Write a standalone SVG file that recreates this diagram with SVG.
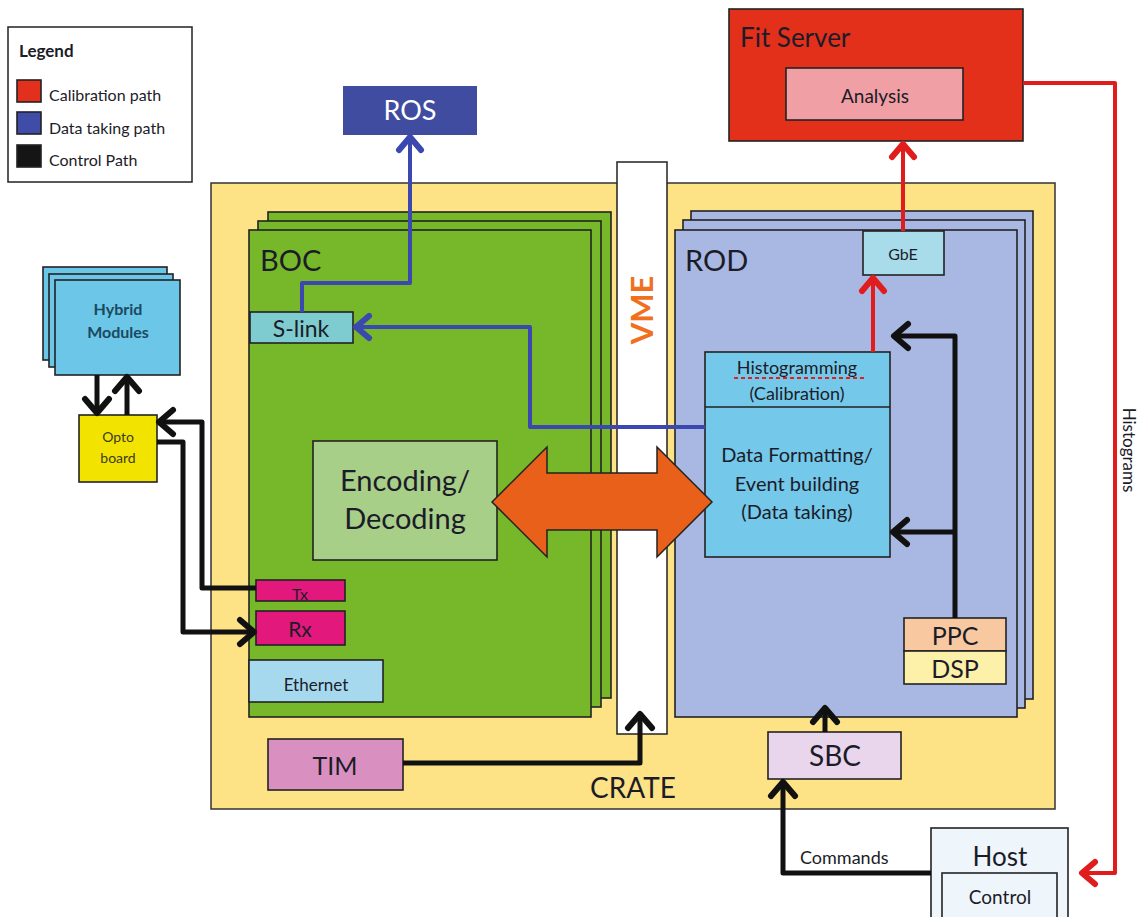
<svg xmlns="http://www.w3.org/2000/svg" width="1143" height="917" viewBox="0 0 1143 917">
<defs>
<style>
text{font-family:Lato,"Open Sans","Liberation Sans",sans-serif;fill:#1c1c28}
.b{stroke:#222;stroke-width:1.6}
.c{text-anchor:middle}
.blk{fill:none;stroke:#111;stroke-width:5;stroke-linejoin:round}
.blu{fill:none;stroke:#3a48b0;stroke-width:4;stroke-linejoin:round}
.red{fill:none;stroke:#e01c1c;stroke-width:4;stroke-linejoin:round}
</style>
<marker id="mk" markerUnits="userSpaceOnUse" markerWidth="40" markerHeight="40" refX="20" refY="20" orient="auto" overflow="visible"><path d="M6,8 L20,20 L6,32" fill="none" stroke="#111" stroke-width="6" stroke-linecap="round" stroke-linejoin="round"/></marker>
<marker id="mb" markerUnits="userSpaceOnUse" markerWidth="40" markerHeight="40" refX="20" refY="20" orient="auto" overflow="visible"><path d="M7,9 L20,20 L7,31" fill="none" stroke="#3a48b0" stroke-width="6" stroke-linecap="round" stroke-linejoin="round"/></marker>
<marker id="mr" markerUnits="userSpaceOnUse" markerWidth="40" markerHeight="40" refX="20" refY="20" orient="auto" overflow="visible"><path d="M7,9 L20,20 L7,31" fill="none" stroke="#e01c1c" stroke-width="6" stroke-linecap="round" stroke-linejoin="round"/></marker>
</defs>
<rect width="1143" height="917" fill="#fff"/>

<g id="legend">
<rect x="8" y="27" width="184" height="155" fill="#fff" stroke="#222" stroke-width="1.5"/>
<text x="19" y="57" font-size="17" font-weight="bold">Legend</text>
<rect x="17" y="80" width="24" height="22" fill="#e3301c" class="b"/>
<rect x="17" y="112" width="24" height="22" fill="#3f4ca8" class="b"/>
<rect x="17" y="145" width="24" height="22" fill="#151515" class="b"/>
<text x="49" y="101" font-size="16" fill="#333">Calibration path</text>
<text x="49" y="134" font-size="16">Data taking path</text>
<text x="49" y="166" font-size="16">Control Path</text>
</g>

<g id="crate">
<rect x="211" y="183" width="844" height="626" fill="#fde386" stroke="#333" stroke-width="1.5"/>
<text x="633" y="798" class="c" font-size="28">CRATE</text>
</g>

<g id="vme">
<rect x="617" y="162" width="50" height="572" fill="#fff" stroke="#222" stroke-width="1.5"/>
<text transform="translate(653,310) rotate(-90)" class="c" font-size="31" font-weight="bold" style="fill:#f07020">VME</text>
</g>

<g id="boc">
<rect x="268" y="212" width="343" height="486" fill="#76b82a" class="b"/>
<rect x="258" y="221" width="343" height="486" fill="#76b82a" class="b"/>
<rect x="249" y="230" width="342" height="487" fill="#76b82a" class="b"/>
<text x="260" y="271" font-size="29">BOC</text>
</g>

<g id="slink">
<rect x="250" y="312" width="103" height="31" fill="#7ecbd0" class="b"/>
<text x="301" y="337" class="c" font-size="23">S-link</text>
</g>

<g id="encdec">
<rect x="313" y="441" width="184" height="119" fill="#a8cf88" class="b"/>
<text x="405" y="491" class="c" font-size="29">Encoding/</text>
<text x="405" y="529" class="c" font-size="29">Decoding</text>
</g>

<g id="tx">
<rect x="256" y="580" width="89" height="21" fill="#e2187c" class="b"/>
<text x="300" y="600" class="c" font-size="16">Tx</text>
</g>
<g id="rx">
<rect x="256" y="611" width="89" height="34" fill="#e2187c" class="b"/>
<text x="300" y="637" class="c" font-size="21">Rx</text>
</g>
<g id="ethernet">
<rect x="249" y="660" width="134" height="42" fill="#a6d8ee" class="b"/>
<text x="316" y="691" class="c" font-size="17">Ethernet</text>
</g>

<g id="rod">
<rect x="691" y="211" width="342" height="488" fill="#a9b8e2" class="b"/>
<rect x="683" y="220" width="342" height="488" fill="#a9b8e2" class="b"/>
<rect x="675" y="230" width="342" height="487" fill="#a9b8e2" class="b"/>
<text x="685" y="271" font-size="29">ROD</text>
</g>

<g id="gbe">
<rect x="863" y="231" width="81" height="44" fill="#a8dcea" class="b"/>
<text x="903" y="260" class="c" font-size="16">GbE</text>
</g>

<g id="dataproc">
<rect x="705" y="352" width="185" height="205" fill="#74c8ea" class="b"/>
<line x1="705" y1="407" x2="890" y2="407" stroke="#222" stroke-width="1.6"/>
<text x="797" y="374" class="c" font-size="18">Histogramming</text>
<line x1="734" y1="378" x2="864" y2="378" stroke="#e02020" stroke-width="2" stroke-dasharray="4,3"/>
<text x="797" y="400" class="c" font-size="18">(Calibration)</text>
<text x="797" y="462" class="c" font-size="20">Data Formatting/</text>
<text x="797" y="491" class="c" font-size="20">Event building</text>
<text x="797" y="519" class="c" font-size="20">(Data taking)</text>
</g>

<g id="ppc">
<rect x="904" y="618" width="102" height="33" fill="#f8c8a0" class="b"/>
<text x="955" y="645" class="c" font-size="25">PPC</text>
</g>
<g id="dsp">
<rect x="904" y="651" width="102" height="33" fill="#fdf0a8" class="b"/>
<text x="955" y="678" class="c" font-size="25">DSP</text>
</g>

<g id="tim">
<rect x="268" y="739" width="135" height="51" fill="#d990c0" class="b"/>
<text x="335" y="775" class="c" font-size="25">TIM</text>
</g>

<g id="sbc">
<rect x="768" y="732" width="133" height="47" fill="#ead6ec" class="b"/>
<text x="835" y="766" class="c" font-size="28">SBC</text>
</g>

<g id="ros">
<rect x="343" y="86" width="134" height="49" fill="#3f4ca0"/>
<text x="410" y="120" class="c" font-size="27" style="fill:#fff">ROS</text>
</g>

<g id="fitserver">
<rect x="729" y="9" width="294" height="132" fill="#e3301a" class="b"/>
<text x="740" y="47" font-size="26">Fit Server</text>
<rect x="786" y="68" width="177" height="52" fill="#f0a0a4" class="b"/>
<text x="875" y="103" class="c" font-size="19">Analysis</text>
</g>

<g id="host">
<rect x="931" y="828" width="137" height="95" fill="#eef6fc" class="b"/>
<text x="1000" y="866" class="c" font-size="26">Host</text>
<rect x="942" y="873" width="115" height="50" fill="#eef6fc" class="b"/>
<text x="1000" y="904" class="c" font-size="19">Control</text>
</g>

<g id="hybrid">
<rect x="43" y="267" width="124" height="93" fill="#6cc6e8" class="b"/>
<rect x="49" y="274" width="124" height="93" fill="#6cc6e8" class="b"/>
<rect x="55" y="280" width="125" height="95" fill="#6cc6e8" class="b"/>
<text x="118" y="315" class="c" font-size="16" font-weight="bold" style="fill:#1a4a60">Hybrid</text>
<text x="118" y="338" class="c" font-size="16" font-weight="bold" style="fill:#1a4a60">Modules</text>
</g>

<g id="opto">
<rect x="79" y="415" width="78" height="67" fill="#f2e400" class="b"/>
<text x="118" y="442" class="c" font-size="14" style="fill:#3a3a20">Opto</text>
<text x="118" y="463" class="c" font-size="14" style="fill:#3a3a20">board</text>
</g>

<g id="connectors">
<path d="M492,502 L547,447 L547,473 L657,473 L657,447 L712,502 L657,557 L657,530 L547,530 L547,557 Z" fill="#e8601a" stroke="#222" stroke-width="1.5" stroke-linejoin="miter"/>
<path class="blu" d="M302,312 V283 H410 V137" marker-end="url(#mb)"/>
<path class="blu" d="M705,427 H530 V327 H356" marker-end="url(#mb)"/>
<path class="red" d="M873,352 V278" marker-end="url(#mr)"/>
<path class="red" d="M903,231 V144" marker-end="url(#mr)"/>
<path class="red" d="M1023,83 H1115 V873 H1082" marker-end="url(#mr)" stroke-width="3.5"/>
<text transform="translate(1123,450) rotate(90)" class="c" font-size="17">Histograms</text>
<path class="blk" d="M97,375 V413" marker-end="url(#mk)"/>
<path class="blk" d="M127,415 V377" marker-end="url(#mk)"/>
<path class="blk" d="M256,588 H202 V422 H159" marker-end="url(#mk)"/>
<path class="blk" d="M157,442 H183 V632 H254" marker-end="url(#mk)"/>
<path class="blk" d="M955,618 V336 H894" marker-end="url(#mk)"/>
<path class="blk" d="M955,532 H893" marker-end="url(#mk)"/>
<path class="blk" d="M403,763 H640 V714" marker-end="url(#mk)"/>
<path class="blk" d="M825,732 V708" marker-end="url(#mk)"/>
<path class="blk" d="M931,873 H783 V782" marker-end="url(#mk)"/>
<text x="800" y="864" font-size="18">Commands</text>
</g>
</svg>
